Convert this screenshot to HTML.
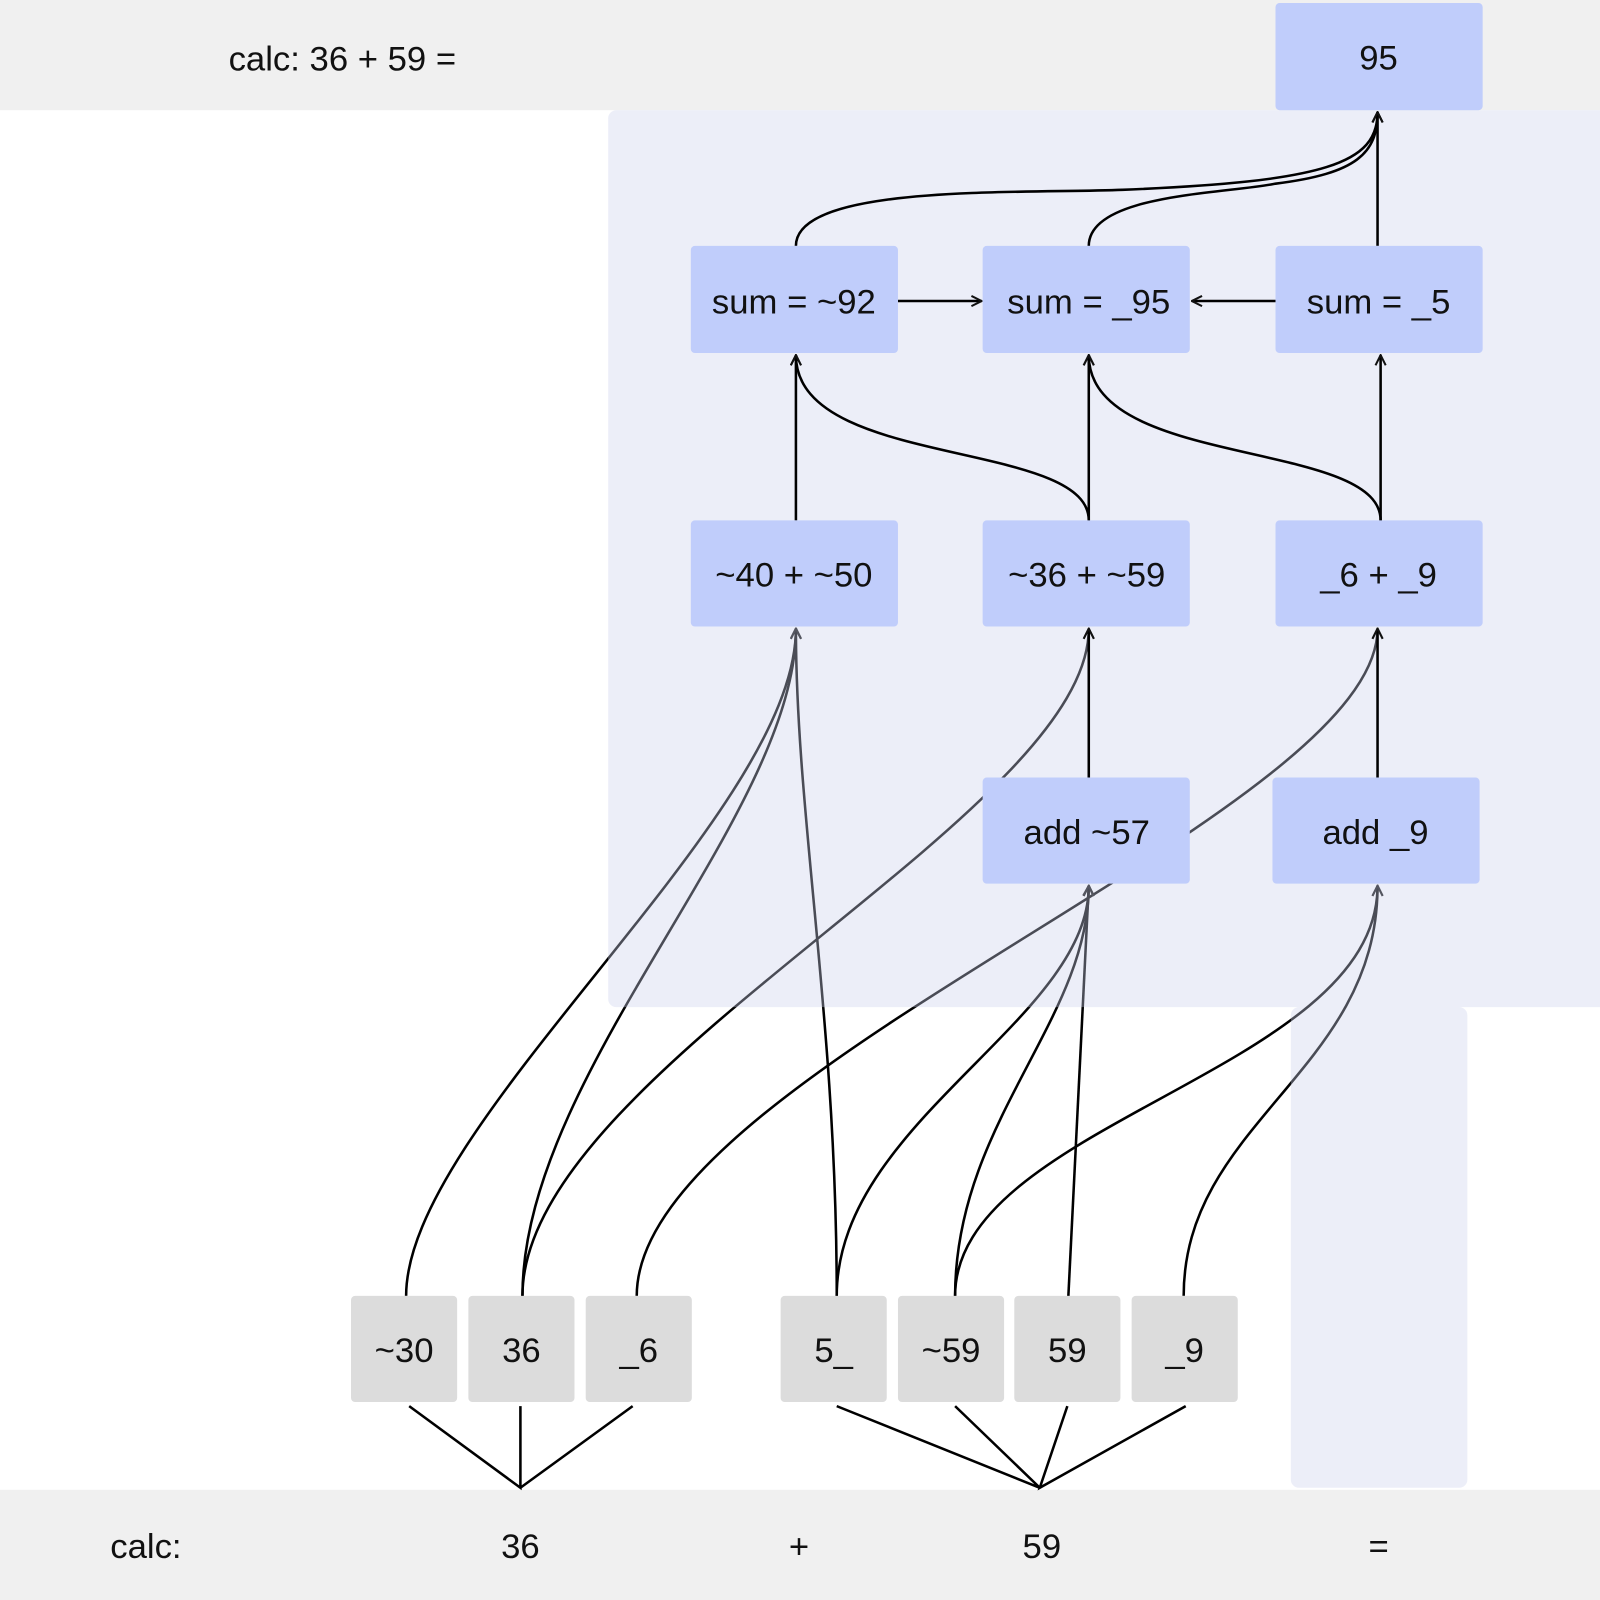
<!DOCTYPE html>
<html><head><meta charset="utf-8"><style>
html,body{margin:0;padding:0;background:#fff}
svg{display:block}
text{font-family:"Liberation Sans",sans-serif;font-size:34px;fill:#111}
</style></head><body>
<svg width="1600" height="1600" viewBox="0 0 1568 1568" xmlns="http://www.w3.org/2000/svg">
<defs>
<marker id="a" viewBox="0 0 12 12" refX="11" refY="6" markerWidth="12" markerHeight="12" markerUnits="userSpaceOnUse" orient="auto">
<path d="M1,1 L11,6 L1,11" fill="none" stroke="#111" stroke-width="2"/>
</marker>
</defs>
<rect x="0" y="0" width="1568" height="108" fill="#f0f0f0"/>
<rect x="0" y="1460" width="1568" height="108" fill="#f0f0f0"/>
<text x="224" y="69">calc: 36 + 59 =</text>
<g text-anchor="middle">
<text x="143" y="1527">calc:</text>
<text x="510" y="1527">36</text>
<text x="783" y="1527">+</text>
<text x="1021" y="1527">59</text>
<text x="1351" y="1527">=</text>
</g>
<!-- lower edges (under panel) -->
<g fill="none" stroke="#000" stroke-width="2.5" marker-end="url(#a)">
<path d="M398,1270 C398,1100 780,800 780,616"/>
<path d="M512,1270 C512,1050 780,800 780,616"/>
<path d="M820,1270 C820,1000 780,800 780,616"/>
<path d="M512,1270 C512,1050 1067,800 1067,616"/>
<path d="M624,1270 C624,1050 1350,800 1350,616"/>
<path d="M820,1270 C820,1100 1067,1000 1067,868"/>
<path d="M936,1270 C936,1100 1067,1000 1067,868"/>
<path d="M1047,1270 L1067,868"/>
<path d="M936,1270 C936,1100 1350,1050 1350,868"/>
<path d="M1160,1270 C1160,1100 1350,1050 1350,868"/>
</g>
<!-- panels overlay -->
<rect x="596" y="108" width="990" height="879" rx="8" fill="rgb(203,208,236)" fill-opacity="0.365"/>
<rect x="1265" y="987" width="173" height="471" rx="8" fill="rgb(203,208,236)" fill-opacity="0.365"/>
<!-- upper edges -->
<g fill="none" stroke="#000" stroke-width="2.5" marker-end="url(#a)">
<path d="M780,241 C780,180 1000,190 1100,186 C1300,178 1350,160 1350,110"/>
<path d="M1067,241 C1067,190 1200,190 1250,180 C1330,170 1350,150 1350,110"/>
<path d="M1350,241 L1350,110"/>
<path d="M880,295 L962,295"/>
<path d="M1250,295 L1168,295"/>
<path d="M780,510 L780,348"/>
<path d="M1067,510 C1067,430 780,460 780,348"/>
<path d="M1067,510 L1067,348"/>
<path d="M1353,510 C1353,430 1067,460 1067,348"/>
<path d="M1353,510 L1353,348"/>
<path d="M1067,762 L1067,616"/>
<path d="M1350,762 L1350,616"/>
</g>
<!-- bottom connectors -->
<g fill="none" stroke="#000" stroke-width="2.5">
<path d="M401,1378 L510,1458 L510,1378 M620,1378 L510,1458"/>
<path d="M820,1378 L1019,1458 L936,1378 M1046,1378 L1019,1458 L1162,1378"/>
</g>
<!-- blue boxes -->
<g fill="#c0cdfb">
<rect x="1250" y="3" width="203" height="105" rx="4"/>
<rect x="677" y="241" width="203" height="105" rx="4"/>
<rect x="963" y="241" width="203" height="105" rx="4"/>
<rect x="1250" y="241" width="203" height="105" rx="4"/>
<rect x="677" y="510" width="203" height="104" rx="4"/>
<rect x="963" y="510" width="203" height="104" rx="4"/>
<rect x="1250" y="510" width="203" height="104" rx="4"/>
<rect x="963" y="762" width="203" height="104" rx="4"/>
<rect x="1247" y="762" width="203" height="104" rx="4"/>
</g>
<g fill="#dcdcdc">
<rect x="344" y="1270" width="104" height="104" rx="4"/>
<rect x="459" y="1270" width="104" height="104" rx="4"/>
<rect x="574" y="1270" width="104" height="104" rx="4"/>
<rect x="765" y="1270" width="104" height="104" rx="4"/>
<rect x="880" y="1270" width="104" height="104" rx="4"/>
<rect x="994" y="1270" width="104" height="104" rx="4"/>
<rect x="1109" y="1270" width="104" height="104" rx="4"/>
</g>
<g text-anchor="middle">
<text x="1351" y="68">95</text>
<text x="778" y="307">sum = ~92</text>
<text x="1067" y="307">sum = _95</text>
<text x="1351" y="307">sum = _5</text>
<text x="778" y="575">~40 + ~50</text>
<text x="1065" y="575">~36 + ~59</text>
<text x="1351" y="575">_6 + _9</text>
<text x="1065" y="827">add ~57</text>
<text x="1348" y="827">add _9</text>
<text x="396" y="1335">~30</text>
<text x="511" y="1335">36</text>
<text x="626" y="1335">_6</text>
<text x="817" y="1335">5_</text>
<text x="932" y="1335">~59</text>
<text x="1046" y="1335">59</text>
<text x="1161" y="1335">_9</text>
</g>
</svg>
</body></html>
